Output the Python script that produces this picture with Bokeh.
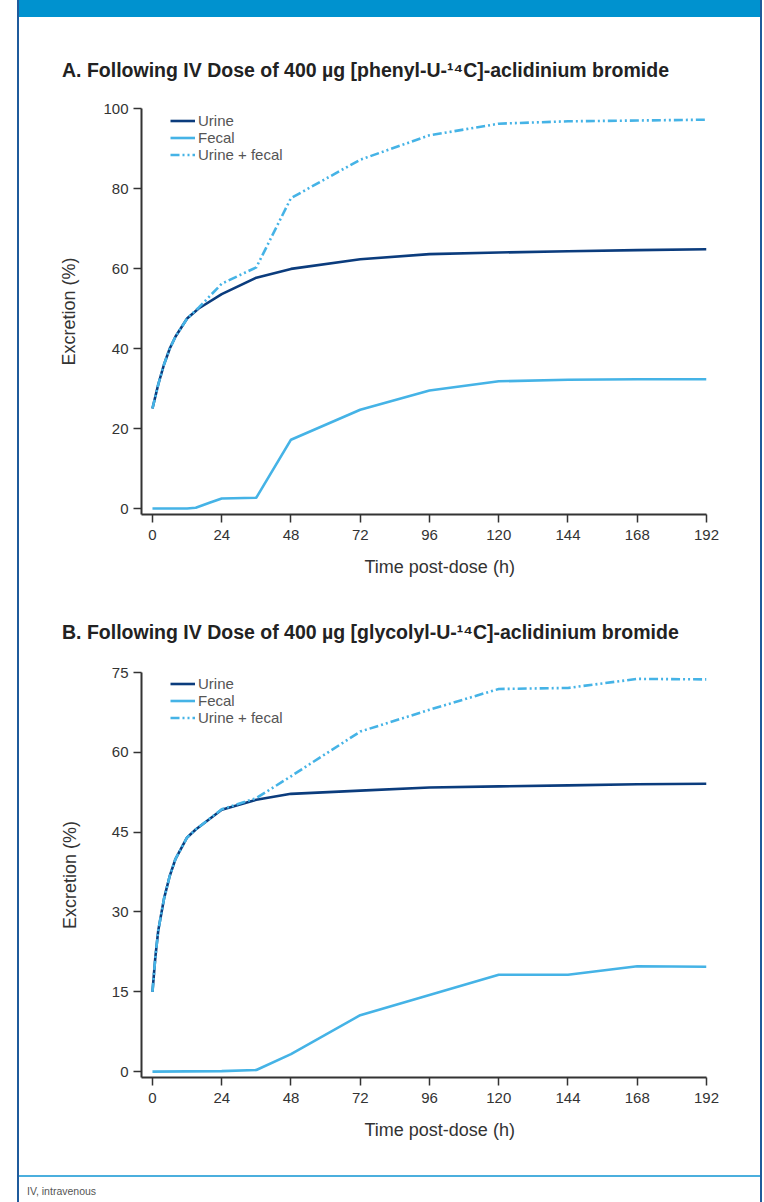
from bokeh.plotting import figure
from bokeh.models import Range1d, Legend, LegendItem, Title, FixedTicker, Div, Spacer
from bokeh.layouts import column, row
from bokeh.embed import file_html
from bokeh.resources import INLINE

# ---------------- data ----------------
time_ticks = [0, 24, 48, 72, 96, 120, 144, 168, 192]
a_yticks = [0, 20, 40, 60, 80, 100]
b_yticks = [0, 15, 30, 45, 60, 75]

# Panel A: phenyl-U-14C label
a_urine_t = [0, 2, 4, 6, 8, 12, 16, 24, 36, 48, 72, 96, 120, 144, 168, 192]
a_urine = [25, 31, 36, 40, 43, 47.5, 50, 53.6, 57.7, 59.9, 62.3, 63.6, 64.0, 64.3, 64.6, 64.8]
a_fecal_t = [0, 12, 15, 20, 24, 36, 48, 72, 96, 120, 144, 168, 192]
a_fecal = [0, 0, 0.2, 1.5, 2.5, 2.7, 17.2, 24.7, 29.5, 31.8, 32.2, 32.3, 32.3]
a_total_t = [0, 2, 4, 6, 8, 12, 16, 24, 36, 48, 72, 96, 120, 144, 168, 192]
a_total = [25, 31, 36, 40, 43, 47.5, 50.2, 56.2, 60.3, 77.6, 87.2, 93.3, 96.2, 96.8, 97.0, 97.2]

# Panel B: glycolyl-U-14C label
b_urine_t = [0, 1, 2, 4, 6, 8, 12, 15, 24, 36, 48, 72, 96, 120, 144, 168, 192]
b_urine = [15, 21.5, 26.5, 32.5, 36.8, 40, 44, 45.5, 49.2, 51.1, 52.2, 52.8, 53.4, 53.6, 53.8, 54.0, 54.1]
b_fecal_t = [0, 24, 36, 48, 72, 96, 120, 144, 168, 192]
b_fecal = [0, 0.1, 0.3, 3.3, 10.6, 14.4, 18.2, 18.2, 19.8, 19.7]
b_total_t = [0, 1, 2, 4, 6, 8, 12, 15, 24, 36, 48, 72, 96, 120, 144, 168, 192]
b_total = [15, 21.5, 26.5, 32.5, 36.8, 40, 44, 45.5, 49.3, 51.4, 55.5, 63.9, 68.0, 71.9, 72.1, 73.8, 73.7]

series_names = ["Urine", "Fecal", "Urine + fecal"]
title_a = "A. Following IV Dose of 400 \u00b5g [phenyl-U-\u00b9\u2074C]-aclidinium bromide"
title_b = "B. Following IV Dose of 400 \u00b5g [glycolyl-U-\u00b9\u2074C]-aclidinium bromide"
x_label = "Time post-dose (h)"
y_label = "Excretion (%)"
footnote = "IV, intravenous"

# ---------------- style ----------------
NAVY = "#0b3c7d"
SKY = "#45b3e6"
AXIS = "#333333"
HEADER = "#0092cf"
BORDER = "#1f5b9c"
RULE = "#4bafde"
FONT = "Liberation Sans"
INNER_W = 741          # width between the two border rules
L, R = 122, 687        # frame edges inside a panel
X0, X1 = -3.8, 192


def panel(height, top, bottom, y0, y1, yticks, ylab_standoff, ts, vs):
    p = figure(width=INNER_W, height=height, x_range=Range1d(X0, X1),
               y_range=Range1d(y0, y1),
               output_backend="svg", toolbar_location=None,
               min_border_left=L, min_border_right=INNER_W - R,
               min_border_top=top, min_border_bottom=height - bottom)
    p.outline_line_color = None
    p.grid.visible = False
    p.background_fill_color = "white"
    p.border_fill_color = "white"

    for ax in (p.xaxis, p.yaxis):
        ax.axis_line_color = AXIS
        ax.axis_line_width = 2
        ax.major_tick_line_color = AXIS
        ax.major_tick_line_width = 1.5
        ax.major_tick_out = 8
        ax.major_tick_in = 0
        ax.minor_tick_line_color = None
        ax.major_label_text_font = FONT
        ax.major_label_text_font_size = "15px"
        ax.major_label_text_color = AXIS
        ax.axis_label_text_font = FONT
        ax.axis_label_text_font_size = "18px"
        ax.axis_label_text_font_style = "normal"
        ax.axis_label_text_color = AXIS
    p.xaxis.ticker = FixedTicker(ticks=time_ticks)
    p.yaxis.ticker = FixedTicker(ticks=yticks)
    p.xaxis.major_label_standoff = 7
    p.yaxis.major_label_standoff = 5
    p.yaxis.axis_label = y_label
    p.yaxis.axis_label_standoff = ylab_standoff

    r1 = p.line(ts[0], vs[0], line_color=NAVY, line_width=2.6, line_join="round")
    r2 = p.line(ts[1], vs[1], line_color=SKY, line_width=2.6, line_join="round")
    r3 = p.line(ts[2], vs[2], line_color=SKY, line_width=2.6, line_join="round",
                line_dash="9 3 2 3 2 3")

    leg = Legend(items=[LegendItem(label=series_names[0], renderers=[r1]),
                        LegendItem(label=series_names[1], renderers=[r2]),
                        LegendItem(label=series_names[2], renderers=[r3])],
                 location=(29, 351), orientation="vertical")
    leg.border_line_color = None
    leg.background_fill_alpha = 0
    leg.padding = 0
    leg.margin = 0
    leg.spacing = 0
    leg.label_height = 17
    leg.glyph_height = 17
    leg.glyph_width = 25
    leg.label_standoff = 3
    leg.label_text_font = FONT
    leg.label_text_font_size = "15px"
    leg.label_text_color = "#555555"
    p.add_layout(leg, "center")

    # x-axis label (set as a below title so it can sit where the original has it)
    p.add_layout(Title(text=x_label, align="left", offset=223, standoff=25,
                       text_font=FONT, text_font_size="18px", text_font_style="normal",
                       text_color=AXIS), "below")
    return p


def heading(text, height, pad_top):
    html = ('<div style="padding:%dpx 0 0 43px; font-family:\'Liberation Sans\';'
            ' font-size:19.5px; font-weight:bold; color:#222222; line-height:24px;'
            ' white-space:nowrap;">%s</div>' % (pad_top, text))
    return Div(text=html, width=INNER_W, height=height, margin=0)


# page rows: header 0-17, heading A 17-90, panel A 90-600,
# heading B 600-645, panel B 645-1175, rule 1175-1177, footnote 1177-1202
pa = panel(510, 18, 424, -1.5, 100, a_yticks, 21,
           [a_urine_t, a_fecal_t, a_total_t], [a_urine, a_fecal, a_total])
pb = panel(530, 27, 432, -1.1, 75, b_yticks, 29,
           [b_urine_t, b_fecal_t, b_total_t], [b_urine, b_fecal, b_total])

header = Div(text="", width=INNER_W, height=17, margin=0,
             styles={"background-color": HEADER})
head_a = heading(title_a, 73, 41)
head_b = heading(title_b, 45, 20)
rule = Div(text="", width=INNER_W, height=2, margin=0,
           styles={"background-color": RULE})
foot = Div(text=('<div style="padding:8px 0 0 8px; font-family:\'Liberation Sans\';'
                 ' font-size:10.5px; color:#555555; line-height:12px;">%s</div>' % footnote),
           width=INNER_W, height=25, margin=0)

inner = column(header, head_a, pa, head_b, pb, rule, foot, spacing=0, margin=0)
bar_l = Div(text="", width=2, height=1202, margin=0, styles={"background-color": BORDER})
bar_r = Div(text="", width=2, height=1202, margin=0, styles={"background-color": BORDER})
layout = row(Spacer(width=17, height=1202, margin=0), bar_l, inner, bar_r,
             Spacer(width=2, height=1202, margin=0), spacing=0, margin=0)

open("out.html", "w").write(file_html(layout, INLINE))
